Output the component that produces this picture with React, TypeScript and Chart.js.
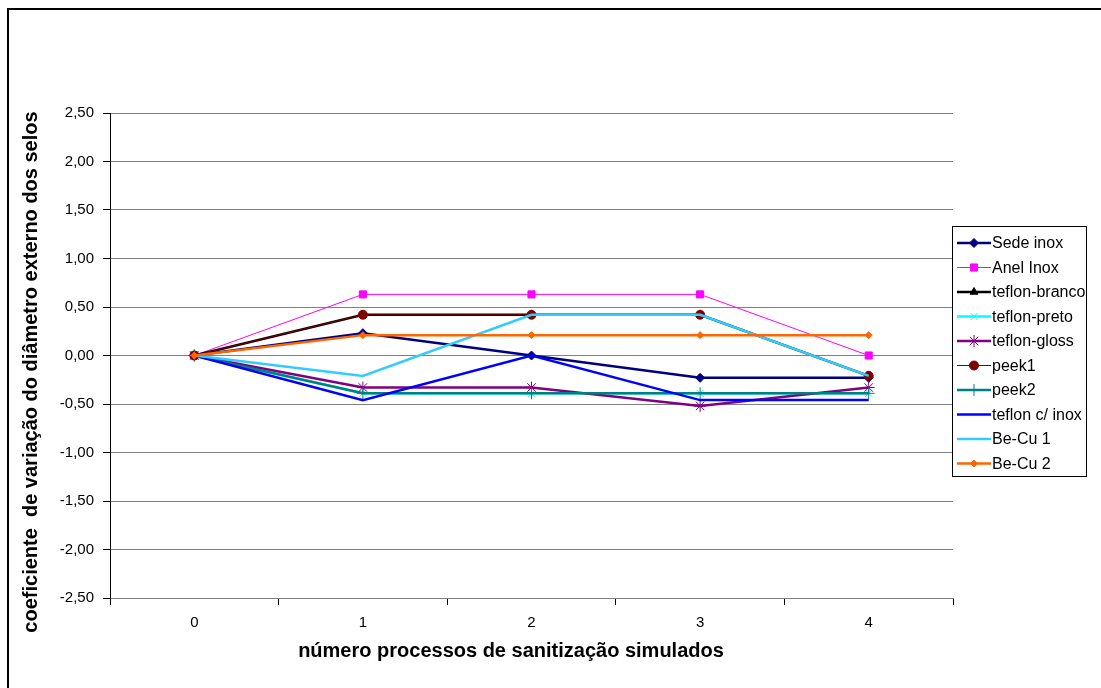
import React, { useEffect, useRef } from "react";
import { Chart, registerables } from "chart.js";
import { drawPoint } from "chart.js/helpers";

Chart.register(...registerables);

const categories = ["0", "1", "2", "3", "4"];
const seriesNames = [
  "Sede inox",
  "Anel Inox",
  "teflon-branco",
  "teflon-preto",
  "teflon-gloss",
  "peek1",
  "peek2",
  "teflon c/ inox",
  "Be-Cu 1",
  "Be-Cu 2",
];
const sedeInox = [0, 0.23, 0, -0.23, -0.23];
const anelInox = [0, 0.63, 0.63, 0.63, 0];
const teflonBranco = [0, 0.42, 0.42, 0.42, -0.21];
const teflonPreto = [0, -0.39, -0.39, -0.39, -0.39];
const teflonGloss = [0, -0.33, -0.33, -0.52, -0.33];
const peek1 = [0, 0.42, 0.42, 0.42, -0.21];
const peek2 = [0, -0.39, -0.39, -0.39, -0.39];
const teflonInox = [0, -0.46, 0, -0.46, -0.46];
const beCu1 = [0, -0.21, 0.42, 0.42, -0.21];
const beCu2 = [0, 0.21, 0.21, 0.21, 0.21];
const yTicks = [2.5, 2, 1.5, 1, 0.5, 0, -0.5, -1, -1.5, -2, -2.5];

const seriesValues = [sedeInox, anelInox, teflonBranco, teflonPreto, teflonGloss, peek1, peek2, teflonInox, beCu1, beCu2];
const styles = [
  { color: "#000080", width: 2.5, point: "rectRot", radius: 4.5, fill: "#000080" },
  { color: "#FF00FF", width: 1, point: "rect", radius: 5, fill: "#FF00FF" },
  { color: "#000000", width: 2.5, point: "triangle", radius: 4.5, fill: "#000000" },
  { color: "#00FFFF", width: 2.5, point: "crossRot", radius: 5, fill: "#00FFFF" },
  { color: "#800080", width: 2.5, point: "star", radius: 6, fill: "#800080" },
  { color: "#800000", width: 1, point: "circle", radius: 4.5, fill: "#800000" },
  { color: "#008080", width: 2.5, point: "cross", radius: 6, fill: "#008080" },
  { color: "#0000FF", width: 2.5, point: "circle", radius: 0, fill: "#0000FF" },
  { color: "#33CCFF", width: 2.5, point: "circle", radius: 0, fill: "#33CCFF" },
  { color: "#FF6600", width: 2.5, point: "rectRot", radius: 3.5, fill: "#FF6600" },
];

const FONT = "'Liberation Sans', Arial, sans-serif";

const framePlugin = {
  id: "frame",
  afterDraw(chart: any) {
    const ctx = chart.ctx;
    ctx.save();
    ctx.strokeStyle = "#000";
    ctx.lineWidth = 2;
    ctx.beginPath();
    ctx.moveTo(8, 688);
    ctx.lineTo(8, 9);
    ctx.lineTo(1101, 9);
    ctx.stroke();

    ctx.fillStyle = "#000";
    ctx.font = `bold 20px ${FONT}`;
    ctx.textAlign = "center";
    ctx.textBaseline = "middle";
    ctx.fillText("número processos de sanitização simulados", 511, 651);
    ctx.translate(31, 372);
    ctx.rotate(-Math.PI / 2);
    ctx.fillText("coeficiente  de variação do diâmetro externo dos selos", 0, 0);
    ctx.restore();

    ctx.save();
    ctx.beginPath();
    ctx.rect(952, 226, 135, 251);
    ctx.clip();
    ctx.strokeStyle = "#000";
    ctx.lineWidth = 1;
    ctx.strokeRect(952.5, 226.5, 134, 250);
    ctx.font = `16px ${FONT}`;
    ctx.textAlign = "left";
    ctx.textBaseline = "middle";
    chart.data.datasets.forEach((ds: any, i: number) => {
      const y = 243 + i * 24.5;
      ctx.strokeStyle = ds.borderColor;
      ctx.lineWidth = ds.borderWidth;
      ctx.beginPath();
      ctx.moveTo(957, y);
      ctx.lineTo(991, y);
      ctx.stroke();
      if (ds.pointRadius > 0) {
        ctx.fillStyle = ds.pointBackgroundColor;
        ctx.strokeStyle = ds.pointBorderColor;
        ctx.lineWidth = 1;
        drawPoint(ctx, { pointStyle: ds.pointStyle, radius: ds.pointRadius, rotation: 0, borderWidth: 1 }, 974, y);
      }
      ctx.fillStyle = "#000";
      ctx.fillText(ds.label, 992, y + 1);
    });
    ctx.restore();
  },
};

export default function App() {
  const ref = useRef<HTMLCanvasElement>(null);
  useEffect(() => {
    if (!ref.current) return;
    const n = seriesNames.length;
    const chart = new Chart(ref.current, {
      type: "line",
      data: {
        labels: categories,
        datasets: seriesNames.map((name, i) => ({
          label: name,
          data: seriesValues[i],
          borderColor: styles[i].color,
          borderWidth: styles[i].width,
          backgroundColor: styles[i].fill,
          pointStyle: styles[i].point as any,
          pointRadius: styles[i].radius,
          pointBackgroundColor: styles[i].fill,
          pointBorderColor: styles[i].color,
          pointBorderWidth: 1,
          tension: 0,
          fill: false,
          order: n - i,
        })),
      },
      options: {
        responsive: false,
        animation: false,
        layout: { padding: { left: 0, top: 113, right: 148, bottom: 0 } },
        plugins: {
          legend: { display: false },
          tooltip: { enabled: false },
          title: { display: false },
        },
        scales: {
          x: {
            offset: true,
            afterFit: (s: any) => {
              s.height = 90;
            },
            grid: {
              offset: true,
              drawOnChartArea: false,
              drawTicks: true,
              tickLength: 7,
              color: "#000",
            },
            border: { color: "#808080", width: 1 },
            ticks: {
              color: "#000",
              font: { family: FONT, size: 15 },
              padding: 9,
            },
          },
          y: {
            min: -2.5,
            max: 2.5,
            afterFit: (s: any) => {
              s.width = 110;
            },
            afterBuildTicks: (s: any) => {
              s.ticks = yTicks.slice().reverse().map((v) => ({ value: v }));
            },
            grid: {
              color: "#808080",
              tickColor: "#000",
              tickLength: 7,
              drawTicks: true,
            },
            border: { color: "#000", width: 1 },
            ticks: {
              color: "#000",
              font: { family: FONT, size: 15 },
              padding: 9,
              callback: (v: any) => Number(v).toFixed(2).replace(".", ","),
            },
          },
        },
      },
      plugins: [framePlugin],
    });
    return () => chart.destroy();
  }, []);
  return (
    <div style={{ position: "fixed", left: 0, top: 0, width: 1101, height: 688, background: "#fff" }}>
      <canvas ref={ref} width={1101} height={688} style={{ width: 1101, height: 688 }} />
    </div>
  );
}
